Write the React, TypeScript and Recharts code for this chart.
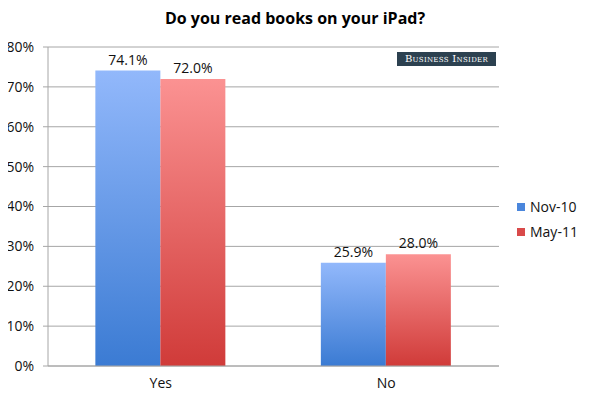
import { Bar, BarChart, CartesianGrid, LabelList, XAxis, YAxis } from "recharts";

const categories = ["Yes", "No"];
const nov10 = [74.1, 25.9];
const may11 = [72.0, 28.0];
const yTicks = [0, 10, 20, 30, 40, 50, 60, 70, 80];

const data = categories.map((name, i) => ({
  name,
  nov10: nov10[i],
  may11: may11[i],
}));

const font = "'Open Sans', 'Liberation Sans', sans-serif";

export default function App() {
  return (
    <div
      style={{
        position: "relative",
        width: 590,
        height: 401,
        margin: -8,
        background: "#fff",
        fontFamily: font,
      }}
    >
      <BarChart
        width={590}
        height={401}
        data={data}
        margin={{ top: 47, right: 91, bottom: 5, left: 0 }}
        barCategoryGap="21%"
        barGap={0}
      >
        <defs>
          <linearGradient id="gBlue" x1="0" y1="0" x2="0" y2="1">
            <stop offset="0%" stopColor="#92b8fb" />
            <stop offset="100%" stopColor="#3b7bd3" />
          </linearGradient>
          <linearGradient id="gRed" x1="0" y1="0" x2="0" y2="1">
            <stop offset="0%" stopColor="#fb9292" />
            <stop offset="100%" stopColor="#d03b39" />
          </linearGradient>
        </defs>
        <CartesianGrid vertical={false} stroke="#a6a6a6" />
        <XAxis
          dataKey="name"
          height={30}
          stroke="#a6a6a6"
          tickLine={false}
          tick={{ fill: "#111", fontSize: 14, fontFamily: font }}
          tickMargin={6}
        />
        <YAxis
          width={48}
          domain={[0, 80]}
          ticks={yTicks}
          tickFormatter={(v: number) => `${v}%`}
          stroke="#a6a6a6"
          tickSize={5}
          tickMargin={9}
          tick={{ fill: "#111", fontSize: 14, fontFamily: font }}
          interval={0}
        />
        <Bar dataKey="nov10" fill="url(#gBlue)" isAnimationActive={false}>
          <LabelList
            dataKey="nov10"
            position="top"
            offset={6}
            formatter={(v: number) => `${v.toFixed(1)}%`}
            style={{ fill: "#111", fontSize: 14, fontFamily: font }}
          />
        </Bar>
        <Bar dataKey="may11" fill="url(#gRed)" isAnimationActive={false}>
          <LabelList
            dataKey="may11"
            position="top"
            offset={6}
            formatter={(v: number) => `${v.toFixed(1)}%`}
            style={{ fill: "#111", fontSize: 14, fontFamily: font }}
          />
        </Bar>
      </BarChart>

      {/* title */}
      <div
        style={{
          position: "absolute",
          left: 0,
          width: 590,
          top: 7,
          textAlign: "center",
          fontWeight: 700,
          fontSize: 16,
          color: "#000",
        }}
      >
        Do you read books on your iPad?
      </div>

      {/* badge */}
      <div
        style={{
          position: "absolute",
          left: 397,
          top: 52,
          width: 99,
          height: 14,
          background: "#2c4150",
          color: "#fff",
          fontFamily: "'DejaVu Serif', 'Liberation Serif', serif",
          fontVariant: "small-caps",
          fontSize: 10,
          lineHeight: "14px",
          textAlign: "center",
          letterSpacing: 0.3,
        }}
      >
        Business Insider
      </div>

      {/* legend */}
      {[
        { label: "Nov-10", color: "#4a86dc", top: 197 },
        { label: "May-11", color: "#d94a4a", top: 222 },
      ].map((item) => (
        <div
          key={item.label}
          style={{
            position: "absolute",
            left: 517,
            top: item.top,
            display: "flex",
            alignItems: "center",
            fontSize: 14,
            color: "#111",
          }}
        >
          <span
            style={{
              display: "inline-block",
              width: 8,
              height: 8,
              background: item.color,
              marginRight: 5,
            }}
          />
          {item.label}
        </div>
      ))}

      {/* frame */}
      <div
        style={{
          position: "absolute",
          left: 1,
          top: 1,
          width: 586,
          height: 397,
          border: "1px solid #9a9a9a",
          pointerEvents: "none",
        }}
      />
    </div>
  );
}
